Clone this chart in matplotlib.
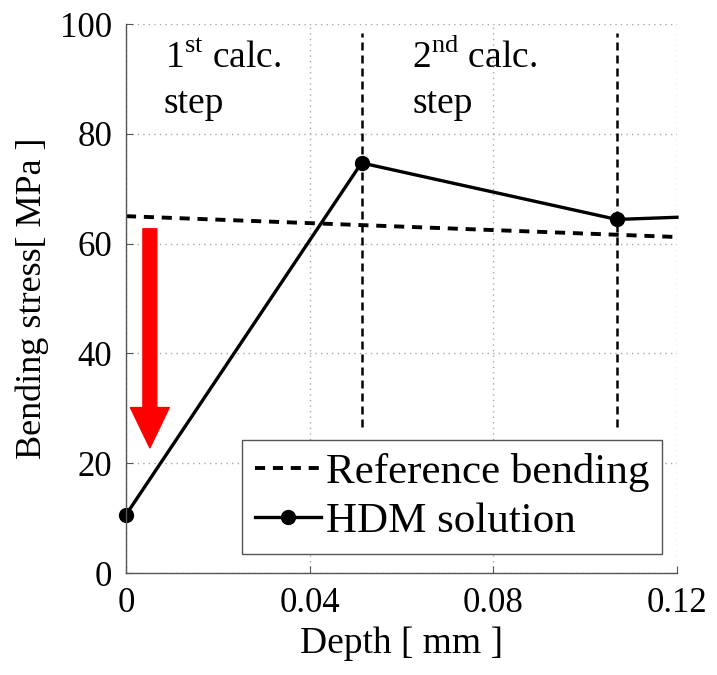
import matplotlib
matplotlib.use("Agg")
import matplotlib.pyplot as plt
from matplotlib.patches import FancyArrowPatch, ArrowStyle

plt.rcParams['font.family'] = ['Liberation Serif', 'DejaVu Serif']
plt.rcParams['mathtext.fontset'] = 'custom'
plt.rcParams['mathtext.rm'] = 'Liberation Serif'

# data
hdm_x = [0.0, 0.0513, 0.1069, 0.12]
hdm_y = [10.6, 74.7, 64.4, 64.8]
ref_x = [0.0, 0.12]
ref_y = [65.0, 61.2]
step_x = [0.0513, 0.1069]
step_y = [26.6, 98.4]
arrow_x = 0.0052
arrow_y = [62.7, 22.8]
xticks = [0, 0.04, 0.08, 0.12]
xtick_labels = ["0", "0.04", "0.08", "0.12"]
yticks = [0, 20, 40, 60, 80, 100]

fig = plt.figure(figsize=(7.17, 6.75), dpi=100)
ax = fig.add_axes([0.1757, 0.1511, 0.7685, 0.8133])

ax.grid(True, linestyle=(0, (1, 3)), color='#a8a8a8', linewidth=1.0)
ax.set_axisbelow(True)

for sx in step_x:
    ax.plot([sx, sx], step_y, color='black', linewidth=1.8, dashes=(3.2, 2.0))

ref_line, = ax.plot(ref_x, ref_y, color='black', linewidth=2.8, dashes=(2.6, 2.0),
                    label='Reference bending')
hdm_line, = ax.plot(hdm_x, hdm_y, color='black', linewidth=2.4, marker='o',
                    markersize=10, markevery=[0, 1, 2], label='HDM solution',
                    clip_on=False)

arrow = FancyArrowPatch((arrow_x, arrow_y[0]), (arrow_x, arrow_y[1]),
                        arrowstyle=ArrowStyle.Simple(head_length=29, head_width=28, tail_width=10),
                        mutation_scale=1, color='red', shrinkA=0, shrinkB=0, zorder=5)
ax.add_patch(arrow)

ax.text(0.0085, 92.0, r"1$^{\mathrm{st}}$ calc.", fontsize=27, va='baseline')
ax.text(0.0081, 83.8, "step", fontsize=27, va='baseline')
ax.text(0.0622, 92.0, r"2$^{\mathrm{nd}}$ calc.", fontsize=27, va='baseline')
ax.text(0.0624, 83.8, "step", fontsize=27, va='baseline')

ax.set_xlim(0, 0.12)
ax.set_ylim(0, 100)
ax.set_xticks(xticks)
ax.set_xticklabels(xtick_labels)
ax.set_yticks(yticks)
ax.tick_params(direction='in', length=5, color='#555555', labelsize=25, pad=10)

for side in ['top', 'right']:
    ax.spines[side].set_visible(False)
for side in ['left', 'bottom']:
    ax.spines[side].set_color('#555555')
    ax.spines[side].set_linewidth(1.0)

ax.set_xlabel("Depth [ mm ]", fontsize=27, labelpad=5)
ax.set_ylabel("Bending stress[ MPa ]", fontsize=26, labelpad=8)

leg = ax.legend(handles=[ref_line, hdm_line], loc='lower right',
                bbox_to_anchor=(0.973, 0.0346), borderaxespad=0, fontsize=31,
                fancybox=False, framealpha=1, edgecolor='#555555',
                handlelength=1.55, handletextpad=0.1, borderpad=0.3,
                labelspacing=0.22)
leg.get_frame().set_linewidth(1.0)

fig.savefig("out.png", dpi=100)
